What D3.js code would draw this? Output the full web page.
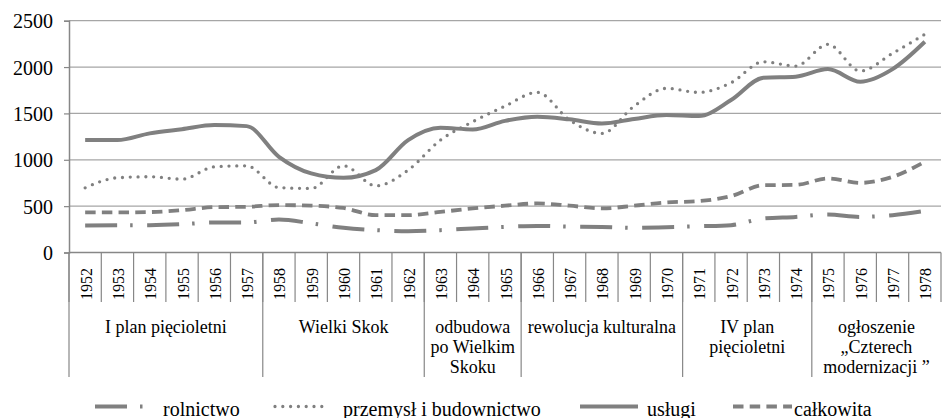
<!DOCTYPE html>
<html><head><meta charset="utf-8">
<script src="https://cdn.jsdelivr.net/npm/d3@7"></script>
<style>body{margin:0;background:#fff}svg{display:block}</style>
</head><body>
<svg id="c" width="942" height="418"></svg>
<script>
const years = [1952,1953,1954,1955,1956,1957,1958,1959,1960,1961,1962,1963,1964,1965,1966,1967,1968,1969,1970,1971,1972,1973,1974,1975,1976,1977,1978];
const rolnictwo = [291,293,295,305,324,324,356,315,266,241,230,241,259,276,287,280,276,266,273,283,295,367,384,410,384,403,449];
const przemysl = [698,806,817,791,924,935,700,691,935,719,888,1212,1410,1579,1727,1428,1284,1579,1770,1727,1831,2057,2011,2245,1957,2148,2353];
const uslugi = [1212,1212,1285,1330,1374,1363,1032,853,805,888,1212,1345,1327,1420,1464,1436,1392,1440,1482,1471,1644,1885,1896,1978,1842,1978,2273];
const calkowita = [432,432,436,457,489,493,511,505,480,403,403,438,475,505,529,505,475,505,540,554,608,726,729,799,751,816,978];
const yTicks = [0,500,1000,1500,2000,2500];
const groups = [
  {lines:["I plan pięcioletni"], from:1952, to:1957},
  {lines:["Wielki Skok"], from:1958, to:1962},
  {lines:["odbudowa","po Wielkim","Skoku"], from:1963, to:1965},
  {lines:["rewolucja kulturalna"], from:1966, to:1970},
  {lines:["IV plan","pięcioletni"], from:1971, to:1974},
  {lines:["ogłoszenie","„Czterech","modernizacji ”"], from:1975, to:1978}
];
const seriesNames = ["rolnictwo","przemysł i budownictwo","usługi","całkowita"];

const FONT = '"Liberation Serif"';
const svg = d3.select("#c");
const L=69, R=941, T=20.7, B=252.5;
const x = d3.scaleBand().domain(years).range([L,R]).padding(0);
const y = d3.scaleLinear().domain([0,2500]).range([B,T]);
const grey="#808080", axisC="#878787", gridC="#a6a6a6";

// gridlines
svg.append("g").selectAll("line").data(yTicks.filter(d=>d>0)).join("line")
  .attr("x1",L).attr("x2",R).attr("y1",d=>y(d)).attr("y2",d=>y(d))
  .attr("stroke",gridC).attr("stroke-width",1.2);

// y axis
const ya = svg.append("g").attr("transform",`translate(${L},0)`)
  .call(d3.axisLeft(y).tickValues(yTicks).tickSize(5).tickPadding(11).tickFormat(d3.format("d")));
ya.attr("font-family",null).attr("font-size",null);
ya.select(".domain").attr("stroke",axisC).attr("stroke-width",1.5);
ya.selectAll(".tick line").attr("stroke",axisC).attr("stroke-width",1.2);
ya.selectAll(".tick text").style("font-family",FONT).style("font-size","20px").attr("fill","#000").attr("dy","0.36em");

// x axis baseline
svg.append("line").attr("x1",L).attr("x2",R).attr("y1",B).attr("y2",B).attr("stroke",axisC).attr("stroke-width",1.5);
// year separators
const seps = years.map(yr=>x(yr)).concat([R]);
svg.append("g").selectAll("line").data(seps).join("line")
  .attr("x1",d=>d).attr("x2",d=>d).attr("y1",B).attr("y2",302)
  .attr("stroke",axisC).attr("stroke-width",1.2);
// group separators
const gseps = groups.map(g=>x(g.from));
svg.append("g").selectAll("line").data(gseps).join("line")
  .attr("x1",d=>d).attr("x2",d=>d).attr("y1",B).attr("y2",377)
  .attr("stroke",axisC).attr("stroke-width",1.2);
// year labels
svg.append("g").selectAll("text").data(years).join("text")
  .attr("transform",d=>`translate(${x(d)+x.bandwidth()/2+6.5},284) rotate(-90)`)
  .attr("text-anchor","middle").style("font-family",FONT).style("font-size","16px").text(d=>d);
// group labels
groups.forEach(g=>{
  const cx=(x(g.from)+x(g.to)+x.bandwidth())/2;
  g.lines.forEach((t,i)=>{
    svg.append("text").attr("x",cx).attr("y",333+i*19.8).attr("text-anchor","middle")
      .style("font-family",FONT).style("font-size","18px").text(t);
  });
});

// series
const styles = [
  {data:rolnictwo, dash:"32 13 2.5 14.5", w:4, cap:"butt"},
  {data:przemysl, dash:"0 7.8", w:3.3, cap:"round"},
  {data:uslugi, dash:null, w:4, cap:"butt"},
  {data:calkowita, dash:"10.5 6.2", w:3.8, cap:"butt"}
];
const line = d3.line().x((d,i)=>x(years[i])+x.bandwidth()/2).y(d=>y(d)).curve(d3.curveMonotoneX);
styles.forEach(s=>{
  svg.append("path").datum(s.data).attr("d",line).attr("fill","none")
    .attr("stroke",grey).attr("stroke-width",s.w).attr("stroke-linecap",s.cap)
    .attr("stroke-linejoin","round").attr("stroke-dasharray",s.dash);
});

// legend
const legPos = [{x1:95,x2:146,tx:163},{x1:275,x2:328,tx:343},{x1:580,x2:638,tx:647},{x1:733,x2:792,tx:794}];
const ly=406.5;
styles.forEach((s,i)=>{
  const p=legPos[i];
  svg.append("line").attr("x1",p.x1).attr("x2",p.x2).attr("y1",ly).attr("y2",ly)
    .attr("stroke",grey).attr("stroke-width",s.w).attr("stroke-linecap",s.cap)
    .attr("stroke-dasharray",s.dash);
  svg.append("text").attr("x",p.tx).attr("y",415.5).style("font-family",FONT).style("font-size","20px").text(seriesNames[i]);
});
</script>
</body></html>
